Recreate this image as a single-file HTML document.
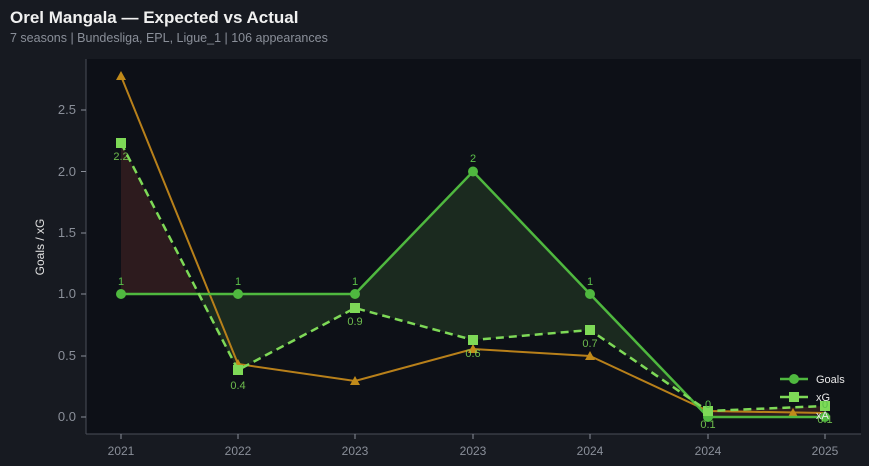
<!DOCTYPE html>
<html><head><meta charset="utf-8"><style>
html,body{margin:0;padding:0;background:#171a21;width:869px;height:466px;overflow:hidden}
svg{display:block;font-family:"Liberation Sans","DejaVu Sans",sans-serif}
</style></head><body>
<svg width="869" height="466" viewBox="0 0 869 466">
<rect width="869" height="466" fill="#171a21"/>
<text x="10" y="23" font-size="17" font-weight="bold" fill="#f0f0f0">Orel Mangala — Expected vs Actual</text>
<text x="10" y="42" font-size="12.5" fill="#8a8f99">7 seasons | Bundesliga, EPL, Ligue_1 | 106 appearances</text>
<rect x="86" y="59" width="775" height="375" fill="#0d1017"/>
<line x1="86" y1="59" x2="86" y2="434" stroke="#4a4e58"/>
<line x1="86" y1="434" x2="861" y2="434" stroke="#4a4e58"/>
<g fill="#8a8f99" font-size="13" text-anchor="end">
<text x="76" y="421">0.0</text><text x="76" y="360">0.5</text><text x="76" y="298">1.0</text>
<text x="76" y="237">1.5</text><text x="76" y="176">2.0</text><text x="76" y="114">2.5</text>
</g>
<g stroke="#8a8f99"><line x1="81" x2="86" y1="417" y2="417"/><line x1="81" x2="86" y1="356" y2="356"/><line x1="81" x2="86" y1="294" y2="294"/><line x1="81" x2="86" y1="233" y2="233"/><line x1="81" x2="86" y1="171.5" y2="171.5"/><line x1="81" x2="86" y1="110" y2="110"/>
<line y1="434" y2="439" x1="121" x2="121"/><line y1="434" y2="439" x1="238" x2="238"/><line y1="434" y2="439" x1="355" x2="355"/><line y1="434" y2="439" x1="473" x2="473"/><line y1="434" y2="439" x1="590" x2="590"/><line y1="434" y2="439" x1="708" x2="708"/><line y1="434" y2="439" x1="825" x2="825"/></g>
<g fill="#8a8f99" font-size="12" text-anchor="middle">
<text x="121" y="455">2021</text><text x="238" y="455">2022</text><text x="355" y="455">2023</text><text x="473" y="455">2023</text><text x="590" y="455">2024</text><text x="708" y="455">2024</text><text x="825" y="455">2025</text>
</g>
<text transform="translate(44,247) rotate(-90)" font-size="12" fill="#e0e0e0" text-anchor="middle">Goals / xG</text>
<polygon points="121,143 197,294 121,294" fill="#2d1b1e"/>
<polygon points="197,294 238,294 355,294 473,171.5 590,294 708,417 708,411 590,330 473,340 355,308 238,370" fill="#1b2a1f"/>
<polygon points="708,417 825,417 825,406 708,411" fill="#2d1b1e"/>
<polyline points="121,76 238,364 355,381 473,349 590,356 708,411 825,413" fill="none" stroke="#b8801a" stroke-width="2"/>
<g fill="#c08a1a"><path d="M121,71l5,9h-10z"/><path d="M238,359l5,9h-10z"/><path d="M355,376l5,9h-10z"/><path d="M473,344l5,9h-10z"/><path d="M590,351l5,9h-10z"/><path d="M708,406l5,9h-10z"/><path d="M793,408l5,9h-10z"/></g>
<polyline points="121,294 238,294 355,294 473,171.5 590,294 708,417 825,417" fill="none" stroke="#4fb83f" stroke-width="2.5"/>
<g fill="#4fb83f"><circle cx="121" cy="294" r="5"/><circle cx="238" cy="294" r="5"/><circle cx="355" cy="294" r="5"/><circle cx="473" cy="171.5" r="5"/><circle cx="590" cy="294" r="5"/><circle cx="708" cy="417" r="5"/><circle cx="825" cy="417" r="5"/></g>
<polyline points="121,143 238,370 355,308 473,340 590,330 708,411 825,406" fill="none" stroke="#7ed957" stroke-width="2.5" stroke-dasharray="8,5"/>
<g fill="#7ed957"><rect x="116" y="138" width="10" height="10"/><rect x="233" y="365" width="10" height="10"/><rect x="350" y="303" width="10" height="10"/><rect x="468" y="335" width="10" height="10"/><rect x="585" y="325" width="10" height="10"/><rect x="703" y="406" width="10" height="10"/><rect x="820" y="401" width="10" height="10"/></g>
<g font-size="11" fill="#5cc04a" text-anchor="middle">
<text x="121" y="285">1</text><text x="238" y="285">1</text><text x="355" y="285">1</text><text x="473" y="162">2</text><text x="590" y="285">1</text><text x="708" y="408">0</text><text x="825" y="408">0</text>
</g>
<g font-size="11" fill="#7ed957" text-anchor="middle" opacity="0.85">
<text x="121" y="160">2.2</text><text x="238" y="389">0.4</text><text x="355" y="325">0.9</text><text x="473" y="357">0.6</text><text x="590" y="347">0.7</text><text x="708" y="428">0.1</text><text x="825" y="423">0.1</text>
</g>
<line x1="780" y1="379" x2="808" y2="379" stroke="#4fb83f" stroke-width="2.5"/><circle cx="794" cy="379" r="5" fill="#4fb83f"/>
<line x1="780" y1="397" x2="808" y2="397" stroke="#7ed957" stroke-width="2.5"/><rect x="789" y="392" width="10" height="10" fill="#7ed957"/>
<g font-size="11" fill="#e8e8e8"><text x="816" y="383">Goals</text><text x="816" y="401">xG</text><text x="816" y="419">xA</text></g>
</svg>
</body></html>
